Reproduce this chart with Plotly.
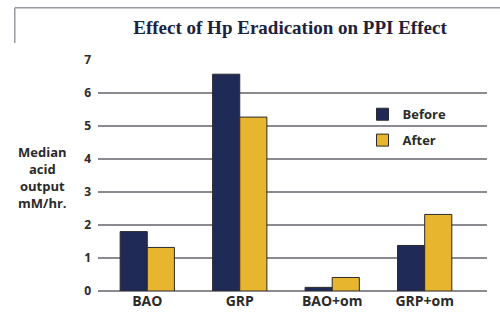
import plotly.graph_objects as go

categories = ["BAO", "GRP", "BAO+om", "GRP+om"]
before = [1.8, 6.57, 0.11, 1.38]
after = [1.32, 5.27, 0.41, 2.32]
y_ticks = [0, 1, 2, 3, 4, 5, 6, 7]

fig = go.Figure()
fig.add_trace(go.Bar(name="Before", x=categories, y=before, legendgroup="b",
                     marker=dict(color="#1f2a57", line=dict(color="#2a2a2a", width=1))))
fig.add_trace(go.Bar(name="After", x=categories, y=after, legendgroup="a",
                     marker=dict(color="#e8b52e", line=dict(color="#2a2a2a", width=1))))

lab_font = dict(family="Open Sans", size=12, color="#2a2a2a", weight="bold")

fig.update_layout(
    width=500, height=323,
    margin=dict(l=98, r=13, t=60, b=32),
    paper_bgcolor="white", plot_bgcolor="white",
    barmode="group", bargap=0.413, bargroupgap=0,
    showlegend=True,
    legend=dict(x=0.68, y=0.83, xanchor="left", yanchor="top",
                font=dict(family="Open Sans", size=13, color="#2a2a2a", weight="bold"),
                bgcolor="rgba(0,0,0,0)", itemwidth=30, tracegroupgap=6),
    title=dict(text="Effect of Hp Eradication on PPI Effect",
               x=0.58, xanchor="center", y=0.915, yanchor="middle",
               font=dict(family="Liberation Serif", size=19, color="#1c2340", weight="bold")),
    font=lab_font,
)
fig.update_xaxes(range=[-0.533, 3.674], showgrid=False, showline=False, ticks="",
                 tickfont=dict(family="Open Sans", size=14, color="#2a2a2a", weight="bold"))
fig.update_yaxes(range=[0, 7], tickvals=y_ticks, showgrid=True, gridcolor="#8a8a90", gridwidth=1.5,
                 zeroline=True, zerolinecolor="#8a8a90", zerolinewidth=1.5, showline=False,
                 ticks="", ticklabelstandoff=6,
                 tickfont=dict(family="Open Sans", size=12, color="#2a2a2a", weight="bold"))

fig.add_annotation(text="Median<br>acid<br>output<br>mM/hr.", xref="paper", yref="paper",
                   x=-0.142, y=0.49, xanchor="center", yanchor="middle", showarrow=False,
                   align="center", font=dict(family="Open Sans", size=13, color="#2a2a2a", weight="bold"))

fig.add_shape(type="line", xref="paper", yref="paper", x0=-0.214, x1=1.1, y0=1.226, y1=1.226,
              line=dict(color="#9a9aa0", width=1.5))
fig.add_shape(type="line", xref="paper", yref="paper", x0=-0.214, x1=-0.214, y0=1.226, y1=1.074,
              line=dict(color="#9a9aa0", width=1.5))

fig.write_html("out.html")
